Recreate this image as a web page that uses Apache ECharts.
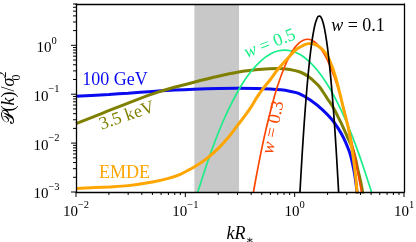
<!DOCTYPE html>
<html><head><meta charset="utf-8">
<script src="https://cdn.jsdelivr.net/npm/echarts@6/dist/echarts.min.js"></script>
<style>html,body{margin:0;padding:0;background:#fff}#c{width:416px;height:242px}</style>
</head><body><div id="c"></div>
<script>
// ---- axis ranges & ticks ----
const xMin = 0.01, xMax = 10, yMin = 0.001, yMax = 7;
const xTickValues = [0.01, 0.1, 1, 10];
const yTickValues = [0.001, 0.01, 0.1, 1];
const bandRange = [0.121, 0.31];

// ---- series: 100 GeV (blue) ----
const blueK = [0.01,0.02,0.03,0.05,0.08,0.12,0.2,0.3,0.45,0.6,0.75,0.9,1.1,1.4,1.8,2.2,2.5,2.8,3.2,3.5,3.65,3.78];
const blueP = [0.091,0.099,0.105,0.114,0.122,0.127,0.131,0.132,0.131,0.128,0.123,0.115,0.103,0.075,0.048,0.030,0.020,0.0128,0.0062,0.0026,0.0014,0.0007];
// ---- 3.5 keV (olive) ----
const oliveK = [0.01,0.0178,0.0316,0.0562,0.1,0.178,0.316,0.5,0.71,0.9,1.12,1.3,1.47,1.65,1.82,2.0,2.24,2.5,2.77,3.05,3.35,3.6,3.8,4.0,4.15,4.3];
const oliveP = [0.025,0.0417,0.069,0.11,0.158,0.219,0.288,0.325,0.335,0.32,0.285,0.24,0.193,0.15,0.111,0.08,0.0547,0.034,0.0213,0.013,0.0083,0.0048,0.00275,0.0017,0.0011,0.0007];
// ---- EMDE (orange) ----
const orangeK = [0.01,0.02,0.03,0.05,0.07,0.09,0.11,0.13,0.16,0.2,0.25,0.3,0.35,0.4,0.45,0.5,0.6,0.7,0.8,0.9,1.0,1.1,1.2,1.3,1.4,1.6,1.8,2.0,2.2,2.4,2.6,2.8,3.1,3.4,3.6,3.72,3.8];
const orangeP = [0.00118,0.00127,0.00135,0.0016,0.0019,0.0023,0.0029,0.0036,0.005,0.0078,0.0135,0.023,0.036,0.055,0.085,0.12,0.2,0.32,0.45,0.6,0.77,0.9,1.0,1.07,1.09,1.0,0.82,0.6,0.37,0.2,0.1,0.05,0.02,0.006,0.0022,0.001,0.0006];
// ---- w = 0.5 (green) ----
const greenK = [0.125,0.13,0.15,0.18,0.22,0.27,0.33,0.4,0.5,0.6,0.7,0.81,0.95,1.1,1.3,1.6,2.0,2.5,3.0,3.6,4.3,5.1,5.3];
const greenP = [0.00074,0.001,0.0027,0.0087,0.027,0.071,0.16,0.295,0.5,0.667,0.765,0.798,0.758,0.662,0.51,0.316,0.156,0.063,0.026,0.0093,0.003,0.00092,0.00069];
// ---- w = 0.3 (red) ----
const redK = [0.41,0.45,0.5,0.55,0.62,0.7,0.8,0.9,1.0,1.1,1.2,1.31,1.45,1.6,1.8,2.0,2.3,2.6,3.0,3.5,4.2];
const redP = [0.00074,0.00234,0.0077,0.0202,0.059,0.15,0.344,0.608,0.888,1.123,1.275,1.33,1.256,1.065,0.759,0.492,0.229,0.098,0.029,0.0062,0.00071];
// ---- w = 0.1 (black) ----
const blackK = [1.11,1.15,1.2,1.25,1.3,1.35,1.4,1.45,1.5,1.55,1.6,1.65,1.7,1.75,1.8,1.85,1.9,1.95,2.0,2.1,2.2,2.3,2.4,2.54];
const blackP = [0.00075,0.00303,0.0139,0.0504,0.149,0.365,0.757,1.35,2.10,2.885,3.54,3.93,3.96,3.67,3.15,2.51,1.87,1.315,0.872,0.331,0.105,0.0288,0.00689,0.00078];

const pairs = (k, p) => k.map((v, i) => [v, p[i]]);
const font = "'Liberation Serif','DejaVu Serif',serif";

function expLabel(v) {
  const e = Math.log10(v), r = Math.round(e);
  if (Math.abs(e - r) > 1e-6) return '';
  return '{b|10}{s|' + (r < 0 ? '\u2212' + (-r) : r) + '}';
}
const tickRich = {
  b: {fontSize: 15, lineHeight: 20, verticalAlign: 'bottom', fontFamily: font, color: '#000'},
  s: {fontSize: 10.5, lineHeight: 10, verticalAlign: 'top', fontFamily: font, color: '#000'}
};

// minor tick positions (2..9 x 10^n)
const xMinor = [], yMinor = [];
for (let e = -2; e < 1; e++) for (let m = 2; m < 10; m++) xMinor.push(m * Math.pow(10, e));
for (let e = -3; e < 1; e++) for (let m = 2; m < 10; m++) { const v = m * Math.pow(10, e); if (v <= yMax) yMinor.push(v); }

const MAJ = 5, MIN = 3;
const xTickData = xTickValues.map(v => [v, yMin, MAJ]).concat(xMinor.map(v => [v, yMin, MIN]));
const yTickData = yTickValues.map(v => [xMin, v, MAJ]).concat(yMinor.map(v => [xMin, v, MIN]));

function tickSeries(data, vertical) {
  return {
    type: 'custom', coordinateSystem: 'cartesian2d', silent: true, clip: false, z: 20,
    encode: {x: 0, y: 1}, data: data,
    renderItem: (params, api) => {
      const p = api.coord([api.value(0), api.value(1)]);
      const len = api.value(2);
      const shape = vertical ? {x1: p[0], y1: p[1], x2: p[0], y2: p[1] + len}
                             : {x1: p[0], y1: p[1], x2: p[0] - len, y2: p[1]};
      return {type: 'line', shape: shape, style: {stroke: '#000', lineWidth: 1}};
    }
  };
}

function lineSeries(k, p, color, width, z) {
  return {type: 'line', data: pairs(k, p), showSymbol: false, smooth: 0.35, z: z,
    lineStyle: {color: color, width: width}, silent: true};
}

const chart = echarts.init(document.getElementById('c'), null, {renderer: 'canvas'});
const frameAxis = {axisLine: {show: true, lineStyle: {color: '#000', width: 1.3}}, axisTick: {show: false}, axisLabel: {show: false}, splitLine: {show: false}, z: 15};

chart.setOption({
  animation: false,
  backgroundColor: '#fff',
  grid: {left: 76, right: 12, top: 4, bottom: 50, containLabel: false, outerBoundsMode: 'none'},
  xAxis: [
    Object.assign({}, frameAxis, {type: 'log', logBase: 10, min: xMin, max: xMax, position: 'bottom',
      axisLabel: {show: true, margin: 8, formatter: expLabel, rich: tickRich},
      name: '{i|kR}{sub|\u2217}', nameLocation: 'middle', nameGap: 31,
      nameTextStyle: {rich: {
        i: {fontSize: 18, fontStyle: 'italic', fontFamily: font, lineHeight: 22, verticalAlign: 'top', color: '#000'},
        sub: {fontSize: 12, fontFamily: font, lineHeight: 12, verticalAlign: 'bottom', color: '#000'}}}}),
    Object.assign({}, frameAxis, {type: 'log', logBase: 10, min: xMin, max: xMax, position: 'top'})
  ],
  yAxis: [
    Object.assign({}, frameAxis, {type: 'log', logBase: 10, min: yMin, max: yMax, position: 'left',
      axisLabel: {show: true, margin: 29.5, align: 'center', formatter: expLabel, rich: tickRich},
      name: '{c|\uD835\uDCAB}{n|(}{i|k}{n|)/}{i|\u03C3}{sub|0}{sup|2}', nameLocation: 'middle', nameGap: 41, nameRotate: 90,
      nameTextStyle: {rich: {
        c: {fontSize: 18, fontFamily: font, lineHeight: 26, color: '#000'},
        n: {fontSize: 18, fontFamily: font, lineHeight: 26, color: '#000'},
        i: {fontSize: 18, fontStyle: 'italic', fontFamily: font, lineHeight: 26, color: '#000'},
        sub: {fontSize: 12, fontFamily: font, lineHeight: 12, verticalAlign: 'bottom', width: 0.1, color: '#000'},
        sup: {fontSize: 12, fontFamily: font, lineHeight: 12, verticalAlign: 'top', color: '#000'}}}}),
    Object.assign({}, frameAxis, {type: 'log', logBase: 10, min: yMin, max: yMax, position: 'right'})
  ],
  series: [
    {type: 'line', data: [], z: 1, silent: true,
      markArea: {silent: true, itemStyle: {color: '#c8c8c8'},
        data: [[{xAxis: bandRange[0]}, {xAxis: bandRange[1]}]]}},
    lineSeries(blueK, blueP, '#0a0af0', 3, 3),
    lineSeries(oliveK, oliveP, '#808000', 3, 4),
    lineSeries(greenK, greenP, '#1aee88', 1.7, 5),
    lineSeries(redK, redP, '#ff4500', 1.7, 6),
    lineSeries(orangeK, orangeP, '#ffa500', 3, 7),
    lineSeries(blackK, blackP, '#000000', 1.7, 8),
    tickSeries(xTickData, true),
    tickSeries(yTickData, false)
  ],
  graphic: [
    {type: 'text', x: 115, y: 80.5, z: 30, style: {text: '100 GeV', font: '18px ' + font, fill: '#0a0af0', align: 'center', verticalAlign: 'middle'}},
    {type: 'text', x: 127, y: 116, rotation: 0.33, z: 30, style: {text: '3.5 keV', font: '18px ' + font, fill: '#808000', align: 'center', verticalAlign: 'middle'}},
    {type: 'text', x: 124.5, y: 173.5, z: 30, style: {text: 'EMDE', font: '18px ' + font, fill: '#ffa500', align: 'center', verticalAlign: 'middle'}},
    {type: 'text', x: 270, y: 44, rotation: 0.37, z: 30, style: {text: '{i|w} = 0.5', font: '18px ' + font, fill: '#1aee88', align: 'center', verticalAlign: 'middle', rich: {i: {fontStyle: 'italic', fontSize: 18, fontFamily: font, fill: '#1aee88'}}}},
    {type: 'text', x: 273.5, y: 127.5, rotation: 1.37, z: 30, style: {text: '{i|w} = 0.3', font: '18px ' + font, fill: '#ff4500', align: 'center', verticalAlign: 'middle', rich: {i: {fontStyle: 'italic', fontSize: 18, fontFamily: font, fill: '#ff4500'}}}},
    {type: 'text', x: 358, y: 26, z: 30, style: {text: '{i|w} = 0.1', font: '18px ' + font, fill: '#000', align: 'center', verticalAlign: 'middle', rich: {i: {fontStyle: 'italic', fontSize: 18, fontFamily: font, fill: '#000'}}}}
  ]
});
</script></body></html>
